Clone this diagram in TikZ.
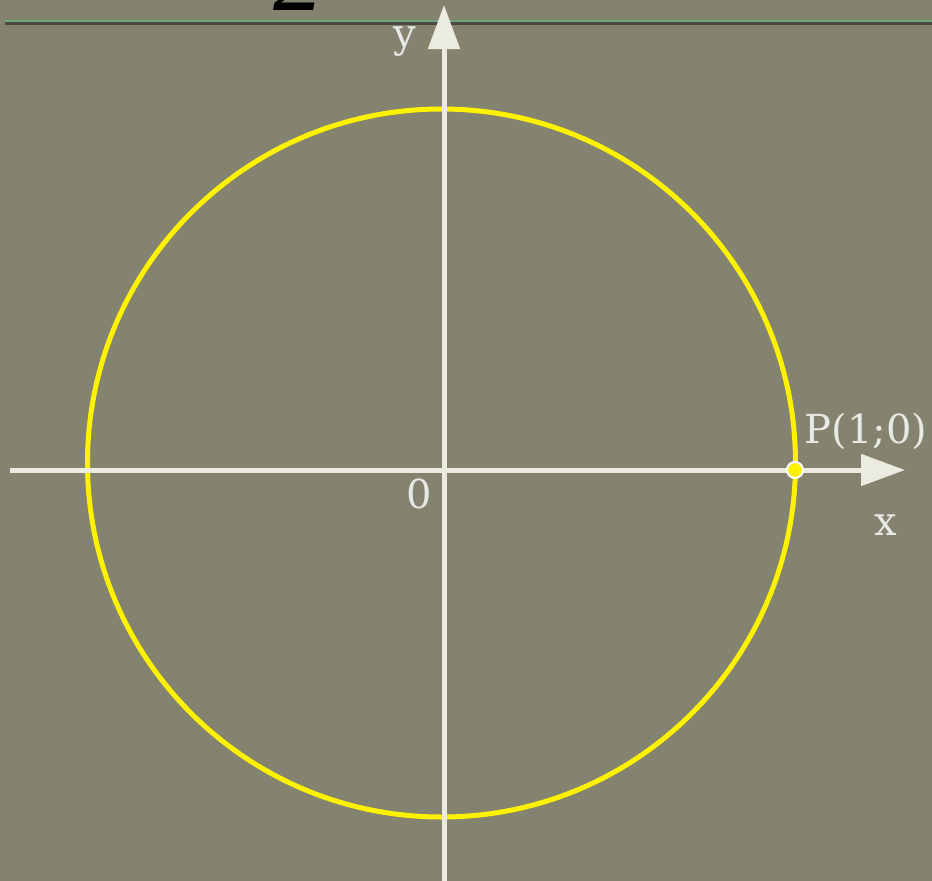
\documentclass[tikz,border=0pt]{standalone}
\usepackage{fontspec}
\newfontfamily\lblfont{DejaVu Serif}
\newfontfamily\glyphfont{Liberation Serif}[ItalicFont={Liberation Serif Italic}]
\usetikzlibrary{arrows.meta}
\definecolor{bg}{HTML}{83836F}
\definecolor{axiscol}{HTML}{ECEBDF}
\definecolor{topgreen}{HTML}{6FA57A}
\definecolor{topdark}{HTML}{4A4A42}
\definecolor{lblcol}{HTML}{E8E8E4}
\tikzset{
  axisline/.style={draw=axiscol, line width=5pt, -{Triangle[length=44pt,width=31pt]}},
  lbl/.style={text=lblcol, font=\lblfont\fontsize{40}{44}\selectfont, inner sep=0pt},
  unitcircle/.style={draw=yellow, line width=5pt},
}
\begin{document}
\begin{tikzpicture}[x=1pt,y=-1pt]
\useasboundingbox (0,0) rectangle (932,881);
\clip (0,0) rectangle (932,881);
\fill[bg] (0,0) rectangle (932,881);
% top rule
\draw[topdark, line width=3pt] (5,23.5) -- (932,23.5);
\draw[topgreen, line width=2pt] (5,21) -- (932,21);
% partial glyph at the top
\node[anchor=base, inner sep=0pt, text=black, font=\glyphfont\itshape\fontsize{100}{110}\selectfont] (two) at (298,10) {2};
% circle
\coordinate (C) at (441.5,463);
\draw[unitcircle] (C) circle[radius=354];
% axes
\coordinate (xs) at (10,470);
\coordinate (xe) at (905,470);
\coordinate (ys) at (444,881);
\coordinate (ye) at (444,5);
\draw[axisline] (xs) -- (xe);
\draw[axisline] (ys) -- (ye);
% point
\node[circle, fill=yellow, draw=white, line width=2pt, minimum size=16pt, inner sep=0pt] (P) at (795,470) {};
% labels
\node[lbl] (Plbl) at (866,431) {P(1;0)};
\node[lbl] (xl) at (886,525) {x};
\node[lbl] (yl) at (405,42) {y};
\node[lbl] (ol) at (419,494) {0};
\end{tikzpicture}
\end{document}
